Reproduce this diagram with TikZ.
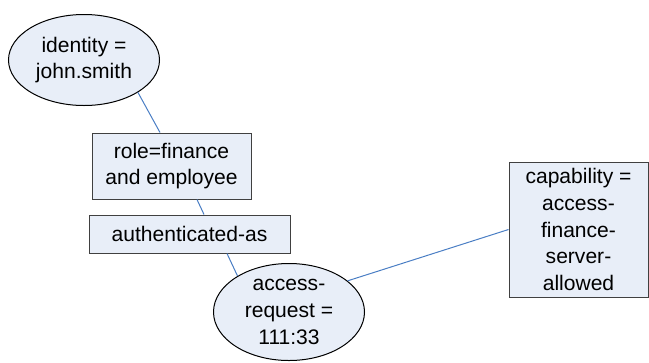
\documentclass[tikz,border=0pt]{standalone}
\usepackage{fontspec}
\setmainfont{Liberation Sans}
\usetikzlibrary{shapes.geometric,calc}
\definecolor{nodefill}{HTML}{E8EEF8}
\definecolor{linkblue}{HTML}{4A7EC4}
\definecolor{boxborder}{HTML}{404040}
\tikzset{
  px/.style={x=0.75pt,y=-0.75pt},
  txt/.style={font=\fontsize{15.8pt}{20pt}\selectfont, align=center, inner sep=0pt, text=black},
  ell/.style={txt, ellipse, draw=black, fill=nodefill, line width=0.75pt},
  box/.style={txt, rectangle, draw=boxborder, fill=nodefill, line width=0.75pt},
  link/.style={draw=linkblue, line width=0.75pt}
}
\begin{document}
\begin{tikzpicture}[px]
\useasboundingbox (0,0) rectangle (649,362);
\node[ell, minimum width=113.25pt, minimum height=68.25pt] (identity) at (84,60) {identity =\\john.smith};
\node[box, minimum width=119.25pt, minimum height=49.5pt] (role) at (171.5,166) {role=finance\\and employee};
\node[box, minimum width=150.75pt, minimum height=28.5pt] (auth) at (189.5,234) {authenticated-as};
\node[ell, minimum width=113.25pt, minimum height=72.75pt] (access) at (289,312) {access-\\request =\\111:33};
\node[box, minimum width=104.25pt, minimum height=101.25pt] (cap) at (578.5,229.5) {capability =\\access-\\finance-\\server-\\allowed};
\draw[link] (identity.-31) -- ($(role.north)+(-11.5,0)$);
\draw[link] ($(role.south)+(25.5,0)$) -- ($(auth.north)+(14.5,0)$);
\draw[link] ($(auth.south)+(37.5,0)$) -- (access.145);
\draw[link] (access.28) -- (cap.west);
\end{tikzpicture}
\end{document}
